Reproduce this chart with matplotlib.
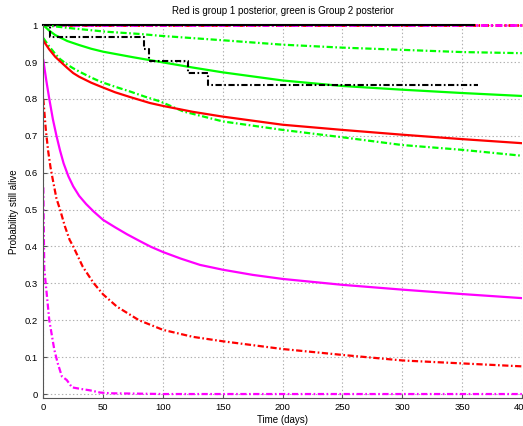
import matplotlib
matplotlib.use("Agg")
import matplotlib.pyplot as plt

plt.rcParams['font.family'] = ['Liberation Sans', 'DejaVu Sans']
plt.rcParams['lines.scale_dashes'] = False

# --- datos ---

# grupo 1 (rojo): media y limites
t_rojo = [0, 5, 10, 14, 20, 25, 30, 40, 47.5, 60, 72.6, 89, 100, 125, 150, 200, 250, 300, 350, 400]
s_rojo = [0.958, 0.934, 0.914, 0.902, 0.884, 0.870, 0.860, 0.844, 0.834, 0.818, 0.805, 0.789,
          0.781, 0.765, 0.752, 0.730, 0.716, 0.703, 0.691, 0.680]
t_rojo_inf = [0, 2, 4, 6, 8, 11, 14, 18, 22, 25, 33, 42, 50, 61.5, 80, 100, 125, 150,
              200, 250, 300, 350, 400]
s_rojo_inf = [0.80, 0.72, 0.66, 0.615, 0.58, 0.53, 0.50, 0.455, 0.418, 0.40, 0.345, 0.301,
              0.27, 0.237, 0.20, 0.174, 0.155, 0.143, 0.122, 0.106, 0.091, 0.083, 0.075]
t_rojo_sup = [0, 400]
s_rojo_sup = [1.0, 1.0]

# grupo 2 (verde): media y limites
t_verde = [0, 5, 10, 20, 30, 40, 50, 75, 100, 125, 150, 200, 250, 300, 350, 400]
s_verde = [1.0, 0.985, 0.973, 0.957, 0.946, 0.936, 0.928, 0.913, 0.899, 0.885, 0.872,
           0.850, 0.835, 0.825, 0.816, 0.808]
t_verde_sup = [0, 25, 53, 81, 98, 150, 200, 250, 300, 350, 400]
s_verde_sup = [1.0, 0.991, 0.982, 0.976, 0.971, 0.959, 0.947, 0.939, 0.933, 0.927, 0.924]
t_verde_inf = [0, 5, 10, 14, 20, 25, 30.7, 40, 47.5, 60, 72.6, 85, 97.8, 117, 150, 200, 250,
               300, 350, 400]
s_verde_inf = [0.965, 0.942, 0.922, 0.908, 0.893, 0.883, 0.873, 0.858, 0.847, 0.833, 0.820,
               0.806, 0.793, 0.766, 0.739, 0.716, 0.696, 0.675, 0.662, 0.646]

# previa (magenta): media y limites
t_mag = [0, 2.5, 5, 8, 11, 14, 17, 21, 25, 30, 35.8, 42, 50, 60, 70, 81, 90, 100, 115, 131,
         150, 175, 200, 250, 300, 350, 400]
s_mag = [0.905, 0.85, 0.80, 0.745, 0.70, 0.66, 0.625, 0.59, 0.563, 0.537, 0.515, 0.495,
         0.472, 0.452, 0.433, 0.414, 0.399, 0.385, 0.367, 0.350, 0.337, 0.323, 0.312, 0.296,
         0.283, 0.271, 0.260]
t_mag_inf = [0, 0.8, 2.3, 5, 9.2, 12, 15.5, 19.6, 24, 31, 39, 47.5, 56, 80, 100, 400]
s_mag_inf = [0.56, 0.34, 0.29, 0.20, 0.12, 0.084, 0.048, 0.038, 0.018, 0.014, 0.010,
             0.004, 0.002, 0.001, 0.0, 0.0]
t_mag_sup = [0, 400]
s_mag_sup = [1.0, 1.0]

# Kaplan-Meier (negro)
t_km = [0, 6, 84, 88, 121, 138, 363]
s_km = [1.0, 30/31, 29/31, 28/31, 27/31, 26/31, 26/31]
t_km2 = [0, 360]
s_km2 = [1.0, 1.0]

# --- grafico ---

fig = plt.figure(figsize=(5.23, 4.26), dpi=100)
ax = fig.add_axes([0.0828, 0.0664, 0.9150, 0.8746])

dd = (4.5, 1.8, 1.2, 1.8)

ax.plot(t_rojo_sup, s_rojo_sup, color='red', lw=2, dashes=dd, clip_on=False)
ax.plot(t_mag_sup, s_mag_sup, color='magenta', lw=2, dashes=(5, 2, 1.5, 2), clip_on=False)
ax.plot(t_km2, s_km2, color='black', lw=1.5, clip_on=False)

ax.plot(t_verde_sup, s_verde_sup, color='lime', lw=1.6, dashes=dd)
ax.plot(t_verde_inf, s_verde_inf, color='lime', lw=1.6, dashes=dd)
ax.plot(t_verde, s_verde, color='lime', lw=1.6)
ax.plot(t_rojo, s_rojo, color='red', lw=1.6)
ax.plot(t_rojo_inf, s_rojo_inf, color='red', lw=1.6, dashes=dd)
ax.plot(t_mag, s_mag, color='magenta', lw=1.6)
ax.plot(t_mag_inf, s_mag_inf, color='magenta', lw=1.6, dashes=dd)
ax.step(t_km, s_km, where='post', color='black', lw=1.5, dashes=dd)

ax.set_xlim(0, 400)
ax.set_ylim(-0.01, 1.0)
ax.set_xticks(range(0, 401, 50))
ax.set_yticks([i / 10 for i in range(11)])
ax.set_yticklabels(['0', '0.1', '0.2', '0.3', '0.4', '0.5', '0.6', '0.7', '0.8', '0.9', '1'])

ax.grid(True, color='#b0b0b0', ls=':', lw=0.8)
for lado in ['top', 'right']:
    ax.spines[lado].set_visible(False)
for lado in ['left', 'bottom']:
    ax.spines[lado].set_color('#555555')
ax.tick_params(direction='in', length=3, color='#555555', labelsize=6.8, pad=4)

ax.set_xlabel('Time (days)', fontsize=7, labelpad=2)
ax.set_ylabel('Probability still alive', fontsize=7, labelpad=4)
ax.set_title('Red is group 1 posterior, green is Group 2 posterior', fontsize=7, pad=8)

fig.savefig('out.png', dpi=100)
